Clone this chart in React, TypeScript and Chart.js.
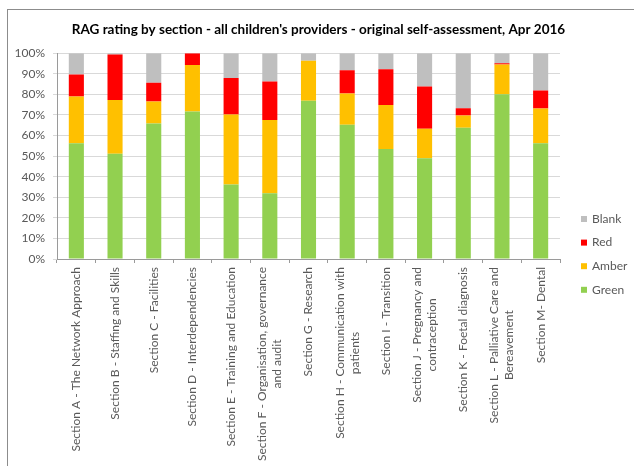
import React, { useEffect, useRef } from "react";
import { Chart, registerables } from "chart.js";

Chart.register(...registerables);

// Section names, one entry per line of the axis label
const sections: string[][] = [
  ["Section A - The Network Approach"],
  ["Section B - Staffing and Skills"],
  ["Section C - Facilities"],
  ["Section D - Interdependencies"],
  ["Section E - Training and Education"],
  ["Section F - Organisation, governance", "and audit"],
  ["Section G - Research"],
  ["Section H - Communication with", "patients"],
  ["Section I - Transition"],
  ["Section J - Pregnancy and", "contraception"],
  ["Section K - Foetal diagnosis"],
  ["Section L - Palliative Care and", "Bereavement"],
  ["Section M- Dental"],
];

// Share of standards (%) in each RAG status
const green = [56.3, 51.1, 65.9, 71.7, 36.2, 32.0, 76.9, 65.2, 53.4, 48.9, 63.8, 80.1, 56.3];
const amber = [22.7, 26.2, 10.6, 22.6, 34.0, 35.5, 19.4, 15.2, 21.4, 14.4, 5.9, 14.4, 16.8];
const red = [10.6, 22.1, 9.1, 5.7, 17.7, 18.7, 0, 11.3, 17.4, 20.5, 3.6, 0.6, 8.8];
const blank = [10.4, 0.6, 14.4, 0, 12.1, 13.8, 3.7, 8.3, 7.8, 16.2, 26.7, 4.9, 18.1];

const yTicks = [0, 10, 20, 30, 40, 50, 60, 70, 80, 90, 100];

const FONT = "Lato, 'Open Sans', sans-serif";
const TEXT = "#595959";

// Rotated, centred multi-line category labels under the x axis
const categoryLabels = {
  id: "categoryLabels",
  afterDraw(chart: any) {
    const { ctx } = chart;
    const x = chart.scales.x;
    const lineH = 15;
    const top = x.bottom + 4;
    ctx.save();
    ctx.font = `12px ${FONT}`;
    ctx.fillStyle = TEXT;
    ctx.textAlign = "center";
    ctx.textBaseline = "middle";
    sections.forEach((lines, i) => {
      const w = Math.max(...lines.map((l) => ctx.measureText(l).width));
      const cx = x.getPixelForTick(i);
      const cy = top + w / 2;
      lines.forEach((ln, j) => {
        ctx.save();
        ctx.translate(cx + (j - (lines.length - 1) / 2) * lineH, cy);
        ctx.rotate(-Math.PI / 2);
        ctx.fillText(ln, 0, 0);
        ctx.restore();
      });
    });
    ctx.restore();
  },
};

// Legend on the right, listed top-down in stack order
const sideLegend = {
  id: "sideLegend",
  afterDraw(chart: any) {
    const { ctx } = chart;
    const items = [...chart.data.datasets].reverse();
    const x0 = 581;
    const y0 = 219;
    const gap = 23.6;
    ctx.save();
    ctx.font = `12px ${FONT}`;
    ctx.textAlign = "left";
    ctx.textBaseline = "middle";
    items.forEach((ds: any, i: number) => {
      const cy = y0 + i * gap;
      ctx.fillStyle = ds.backgroundColor;
      ctx.fillRect(x0, cy - 3, 6, 6);
      ctx.fillStyle = TEXT;
      ctx.fillText(ds.label, x0 + 11, cy);
    });
    ctx.restore();
  },
};

export default function App() {
  const ref = useRef<HTMLCanvasElement | null>(null);

  useEffect(() => {
    if (!ref.current) return;
    const chart = new Chart(ref.current, {
      type: "bar",
      data: {
        labels: sections.map((s) => s.join(" ")),
        datasets: [
          { label: "Green", data: green, backgroundColor: "#92D050" },
          { label: "Amber", data: amber, backgroundColor: "#FFC000" },
          { label: "Red", data: red, backgroundColor: "#FF0000" },
          { label: "Blank", data: blank, backgroundColor: "#BFBFBF" },
        ],
      },
      options: {
        responsive: false,
        animation: false,
        datasets: {
          bar: { barPercentage: 0.39, categoryPercentage: 1, borderWidth: 0 },
        },
        layout: { padding: { left: 0, right: 0, bottom: 203, top: 0 } },
        plugins: {
          legend: { display: false },
          tooltip: { enabled: false },
          title: {
            display: true,
            text: "RAG rating by section - all children's providers - original self-assessment, Apr 2016",
            color: "#000",
            font: { family: FONT, size: 13.5, weight: "bold" },
            padding: { top: 22, bottom: 15 },
          },
        },
        scales: {
          x: {
            stacked: true,
            offset: true,
            ticks: { display: false },
            grid: {
              offset: true,
              drawOnChartArea: false,
              drawTicks: true,
              tickLength: 4,
              color: "#9A9A9A",
            },
            border: { color: "#9A9A9A" },
          },
          y: {
            stacked: true,
            min: 0,
            max: 100,
            afterBuildTicks: (s: any) => {
              s.ticks = yTicks.map((v) => ({ value: v }));
            },
            afterFit: (s: any) => {
              s.width = 57;
            },
            ticks: {
              padding: 8,
              color: TEXT,
              font: { family: FONT, size: 12 },
              callback: (v: any) => `${v}%`,
            },
            grid: { color: "#D9D9D9", tickLength: 4 },
            border: { color: "#9A9A9A" },
          },
          // empty right-hand column that holds the legend
          legendSpace: {
            type: "linear",
            position: "right",
            display: true,
            ticks: { display: false },
            grid: { display: false, drawTicks: false },
            border: { display: false },
            afterFit: (s: any) => {
              s.width = 77;
            },
          },
        },
      },
      plugins: [categoryLabels, sideLegend],
    });
    return () => chart.destroy();
  }, []);

  return (
    <div style={{ position: "absolute", left: 0, top: 0, width: 637, height: 466, background: "#fff" }}>
      <div
        style={{
          position: "absolute",
          left: 7,
          top: 9,
          width: 626,
          height: 457,
          borderTop: "1px solid #8C8C8C",
          borderLeft: "1px solid #8C8C8C",
        }}
      />
      <canvas ref={ref} width={637} height={466} style={{ position: "absolute", left: 0, top: 0, display: "block" }} />
    </div>
  );
}
